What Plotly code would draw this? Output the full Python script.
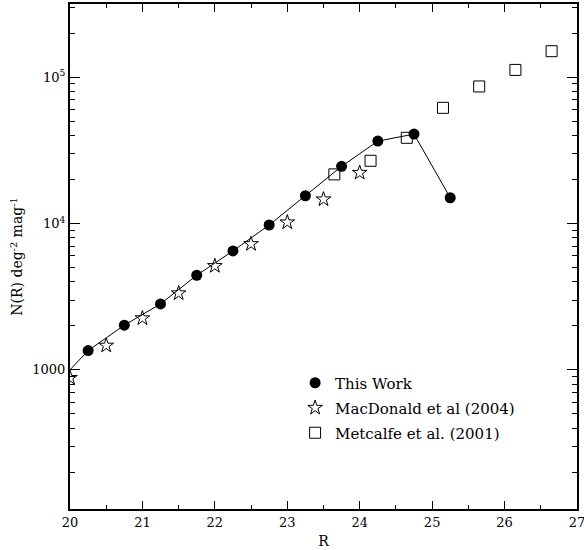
import plotly.graph_objects as go
import numpy as np

# This Work (filled circles, joined by a line)
this_r = [19.75, 20.25, 20.75, 21.25, 21.75, 22.25, 22.75, 23.25, 23.75, 24.25, 24.75, 25.25]
this_n = [740, 1354, 2019, 2822, 4430, 6493, 9767, 15480, 24580, 36560, 40820, 15000]

# MacDonald et al (2004) (open stars)
mac_r = [20.0, 20.5, 21.0, 21.5, 22.0, 22.5, 23.0, 23.5, 24.0]
mac_n = [882, 1465, 2253, 3338, 5128, 7246, 10190, 14630, 22230]

# Metcalfe et al. (2001) (open squares)
met_r = [23.65, 24.15, 24.65, 25.15, 25.65, 26.15, 26.65]
met_n = [21670, 26840, 38520, 61720, 86410, 112100, 150500]

ytick_vals = [1000, 10000, 100000]
ytick_text = ["1000", "10<sup>4</sup>", "10<sup>5</sup>"]
xtick_vals = [20, 21, 22, 23, 24, 25, 26, 27]

FONT = "DejaVu Serif"
y_minor = [m * 10 ** d for d in range(2, 6) for m in range(2, 10)]

fig = go.Figure()
# connecting line (no legend)
fig.add_trace(go.Scatter(x=this_r, y=this_n, mode="lines",
                         line=dict(color="black", width=1), showlegend=False,
                         hoverinfo="skip"))
fig.add_trace(go.Scatter(x=this_r, y=this_n, mode="markers", name="This Work",
                         marker=dict(symbol="circle", size=11, color="black"),
                         legend="legend"))
fig.add_trace(go.Scatter(x=mac_r, y=mac_n, mode="markers", name="MacDonald et al (2004)",
                         marker=dict(symbol="star-open", size=11, color="black",
                                     line=dict(width=1)),
                         legend="legend2"))
fig.add_trace(go.Scatter(x=met_r, y=met_n, mode="markers", name="Metcalfe et al. (2001)",
                         marker=dict(symbol="square-open", size=11, color="black",
                                     line=dict(width=1)),
                         legend="legend3"))

axis_common = dict(showgrid=False, zeroline=False, showline=True, linecolor="black",
                   linewidth=2, mirror="allticks", ticks="inside", tickcolor="black",
                   ticklabeloverflow="allow", automargin=False,
                   tickfont=dict(family=FONT, size=13, color="black"))

fig.update_xaxes(range=[20, 27.0005], tickvals=xtick_vals, ticklen=8, tickwidth=1,
                 minor=dict(tickvals=[20.5 + i for i in range(7)], ticks="inside",
                            ticklen=4, tickcolor="black", tickwidth=1),
                 title=dict(text="R", font=dict(family=FONT, size=14, color="black"),
                            standoff=8),
                 **axis_common)
fig.update_yaxes(type="log", range=[np.log10(112), 5.5], tickvals=ytick_vals,
                 ticktext=ytick_text, ticklen=10, tickwidth=1,
                 minor=dict(tickvals=y_minor, ticks="inside", ticklen=5,
                            tickcolor="black", tickwidth=1),
                 title=dict(text="N(R) deg<sup>-2</sup> mag<sup>-1</sup>",
                            font=dict(family=FONT, size=14, color="black"), standoff=6),
                 **axis_common)

leg = dict(xanchor="left", yanchor="middle", bgcolor="rgba(0,0,0,0)",
           font=dict(family=FONT, size=15, color="black"), itemwidth=30,
           borderwidth=0)
fig.update_layout(
    width=584, height=550,
    margin=dict(l=70, r=7, t=4, b=41),
    paper_bgcolor="white", plot_bgcolor="white",
    legend=dict(x=0.444, y=0.2495, **leg),
    legend2=dict(x=0.444, y=0.2, **leg),
    legend3=dict(x=0.444, y=0.1505, **leg),
)

fig.write_html("out.html")
